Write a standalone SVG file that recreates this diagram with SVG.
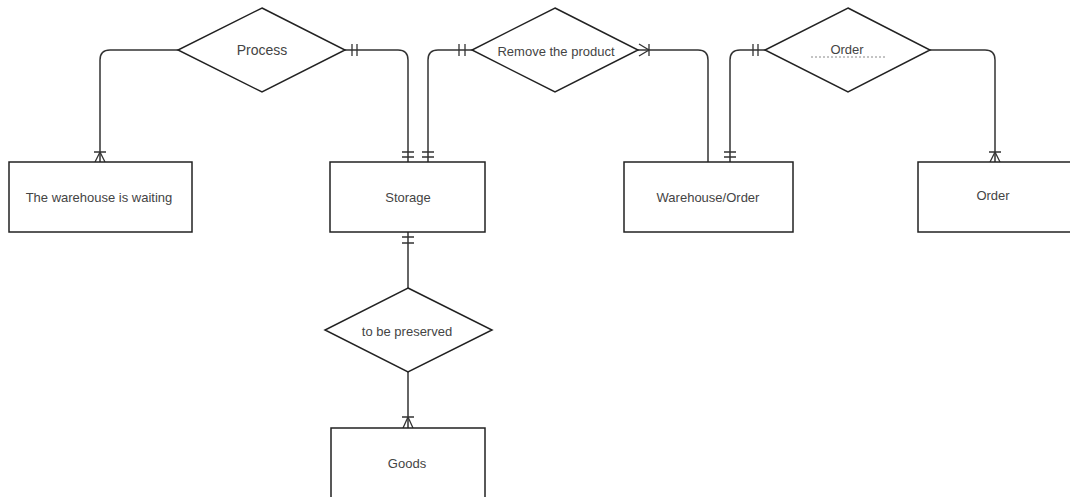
<svg xmlns="http://www.w3.org/2000/svg" width="1070" height="497" viewBox="0 0 1070 497">
  <style>
    .shape { fill: #ffffff; stroke: #222; stroke-width: 1.5; }
    .line { fill: none; stroke: #333; stroke-width: 1.5; }
    .mark { fill: none; stroke: #333; stroke-width: 1.3; }
    .label { font-family: "Liberation Sans", Arial, sans-serif; font-size: 13px; fill: #444; text-anchor: middle; dominant-baseline: central; }
    .big { font-size: 14px; }
    .guide { fill: none; stroke: #888; stroke-width: 1; stroke-dasharray: 2 2; }
  </style>
  <rect width="1070" height="497" fill="#ffffff"/>

  <!-- connectors with their cardinality marks -->
  <g id="connectors">
    <!-- Process -> The warehouse is waiting (one or many) -->
    <path class="line" d="M178,50 H110 Q100,50 100,60 V162"/>
    <path class="mark" d="M94,152 H106 M100,152 L95,162 M100,152 L105,162"/>
    <!-- Process -> Storage (one and only one) -->
    <path class="line" d="M345,50 H398 Q408,50 408,60 V162"/>
    <path class="mark" d="M352,44 V56 M357,44 V56 M402,152 H414 M402,157 H414"/>
    <!-- Storage -> Remove the product -->
    <path class="line" d="M428,162 V60 Q428,50 438,50 H472"/>
    <path class="mark" d="M422,152 H434 M422,157 H434 M459,44 V56 M465,44 V56"/>
    <!-- Remove the product -> Warehouse/Order -->
    <path class="line" d="M638,50 H698 Q708,50 708,60 V162"/>
    <path class="mark" d="M639,44 L649,50 L639,56 M649,44 V56"/>
    <!-- Warehouse/Order -> Order relationship -->
    <path class="line" d="M730,162 V60 Q730,50 740,50 H765"/>
    <path class="mark" d="M724,152 H736 M724,157 H736 M753,44 V56 M758,44 V56"/>
    <!-- Order relationship -> Order entity -->
    <path class="line" d="M930,50 H985 Q995,50 995,60 V162"/>
    <path class="mark" d="M989,152 H1001 M995,152 L990,162 M995,152 L1000,162"/>
    <!-- Storage -> to be preserved -> Goods -->
    <path class="line" d="M408,232 V288"/>
    <path class="mark" d="M402,237 H414 M402,243 H414"/>
    <path class="line" d="M408,372 V428"/>
    <path class="mark" d="M402,417 H414 M408,417 L403,428 M408,417 L413,428"/>
  </g>

  <!-- relationships -->
  <g id="rel-process">
    <polygon class="shape" points="262,8 345,50 262,92 178,50"/>
    <text class="label big" x="262" y="50">Process</text>
  </g>
  <g id="rel-remove">
    <polygon class="shape" points="555,8 638,50 555,92 472,50"/>
    <text class="label" x="556" y="51">Remove the product</text>
  </g>
  <g id="rel-order">
    <polygon class="shape" points="848,8 930,50 848,92 765,50"/>
    <text class="label" x="847" y="49">Order</text>
    <path class="guide" d="M811,57 H885"/>
  </g>
  <g id="rel-preserved">
    <polygon class="shape" points="408,288 492,330 408,372 325,330"/>
    <text class="label" x="407" y="331">to be preserved</text>
  </g>

  <!-- entities -->
  <g id="ent-waiting">
    <rect class="shape" x="9" y="162" width="183" height="70"/>
    <text class="label" x="99" y="197">The warehouse is waiting</text>
  </g>
  <g id="ent-storage">
    <rect class="shape" x="330" y="162" width="155" height="70"/>
    <text class="label" x="408" y="197">Storage</text>
  </g>
  <g id="ent-warehouse-order">
    <rect class="shape" x="624" y="162" width="169" height="70"/>
    <text class="label" x="708" y="197">Warehouse/Order</text>
  </g>
  <g id="ent-order">
    <rect class="shape" x="918" y="162" width="160" height="70"/>
    <text class="label" x="993" y="195">Order</text>
  </g>
  <g id="ent-goods">
    <rect class="shape" x="331" y="428" width="154" height="72"/>
    <text class="label" x="407" y="463">Goods</text>
  </g>
</svg>
